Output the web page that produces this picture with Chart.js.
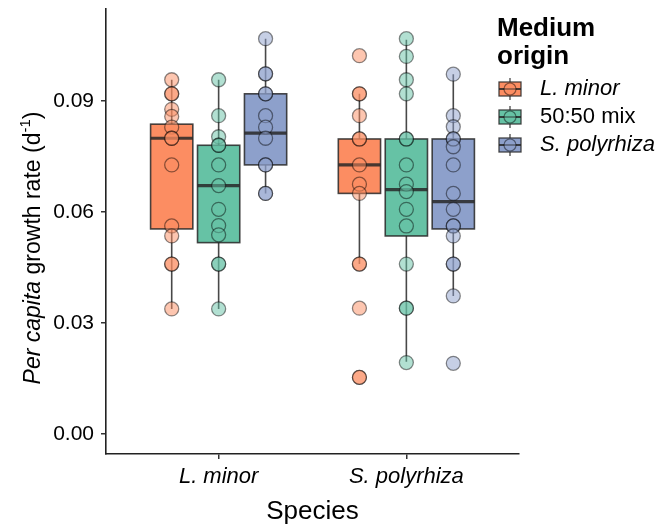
<!DOCTYPE html>
<html>
<head>
<meta charset="utf-8">
<script src="https://cdn.jsdelivr.net/npm/chart.js@4.4.1/dist/chart.umd.min.js"></script>
<style>
  html, body { margin: 0; padding: 0; background: #fff; }
</style>
</head>
<body>
<canvas id="growthChart" width="661" height="529"></canvas>
<script>
const species = ["L. minor", "S. polyrhiza"];
const origins = ["L. minor", "50:50 mix", "S. polyrhiza"];
const originItalic = [true, false, true];
const colors = ["#fc8d62", "#66c2a5", "#8da0cb"];
const yTicks = [0, 0.03, 0.06, 0.09];

// growth rates (d-1), one array per species x medium origin
const minorInMinor = [0.0957, 0.0919, 0.0919, 0.0877, 0.0858, 0.0829, 0.0799, 0.0799, 0.0727, 0.0562, 0.0535, 0.0459, 0.0459, 0.0338];
const minorInMix = [0.0957, 0.086, 0.0803, 0.078, 0.078, 0.0727, 0.0671, 0.0607, 0.0563, 0.0538, 0.0459, 0.0459, 0.0338];
const minorInPoly = [0.1068, 0.0973, 0.0973, 0.0919, 0.0919, 0.086, 0.0829, 0.0799, 0.0727, 0.0727, 0.065, 0.065];
const polyInMinor = [0.1022, 0.0919, 0.0919, 0.086, 0.0797, 0.0797, 0.0727, 0.0675, 0.065, 0.0459, 0.0459, 0.034, 0.0153, 0.0153];
const polyInMix = [0.1068, 0.102, 0.0957, 0.0919, 0.0797, 0.0797, 0.0727, 0.0675, 0.0655, 0.0607, 0.0562, 0.0459, 0.034, 0.034, 0.0193];
const polyInPoly = [0.0972, 0.086, 0.083, 0.0797, 0.0797, 0.0776, 0.0727, 0.065, 0.0607, 0.0562, 0.0562, 0.0535, 0.0459, 0.0459, 0.0373, 0.0191];

// box stats: [lower whisker, q1, median, q3, upper whisker]
const boxMinor = [
  [0.0338, 0.0554, 0.0799, 0.0837, 0.0957],
  [0.0338, 0.0517, 0.0671, 0.078, 0.0957],
  [0.065, 0.0727, 0.0813, 0.0919, 0.1068]
];
const boxPoly = [
  [0.0459, 0.065, 0.0727, 0.0797, 0.0919],
  [0.0195, 0.0535, 0.066, 0.0797, 0.1065],
  [0.0373, 0.0554, 0.0628, 0.0797, 0.0972]
];

const dodge = [-0.25, 0, 0.25];
const boxHalf = 0.1125;
const font = "'Liberation Sans', Arial, sans-serif";

const rawBySpecies = [
  [minorInMinor, minorInMix, minorInPoly],
  [polyInMinor, polyInMix, polyInPoly]
];
const boxBySpecies = [boxMinor, boxPoly];

function fade(hex, a) {
  const n = parseInt(hex.slice(1), 16);
  return "rgba(" + (n >> 16) + "," + ((n >> 8) & 255) + "," + (n & 255) + "," + a + ")";
}

const datasets = origins.map((o, k) => {
  const pts = [];
  rawBySpecies.forEach((groups, i) => {
    groups[k].forEach(v => pts.push({ x: i + 1 + dodge[k], y: v }));
  });
  return {
    label: o,
    data: pts,
    pointRadius: 7,
    pointHoverRadius: 7,
    pointBackgroundColor: fade(colors[k], 0.5),
    pointBorderColor: "rgba(0,0,0,0.45)",
    pointBorderWidth: 1.3
  };
});

const boxPlugin = {
  id: "boxes",
  beforeDatasetsDraw(chart) {
    const { ctx, scales: { x, y } } = chart;
    ctx.save();
    boxBySpecies.forEach((boxes, i) => {
      boxes.forEach((b, k) => {
        const cx = x.getPixelForValue(i + 1 + dodge[k]);
        const left = x.getPixelForValue(i + 1 + dodge[k] - boxHalf);
        const right = x.getPixelForValue(i + 1 + dodge[k] + boxHalf);
        const [lo, q1, med, q3, hi] = b.map(v => y.getPixelForValue(v));
        ctx.strokeStyle = "rgba(40,40,40,0.85)";
        ctx.lineWidth = 1.6;
        ctx.beginPath();
        ctx.moveTo(cx, lo); ctx.lineTo(cx, q1);
        ctx.moveTo(cx, q3); ctx.lineTo(cx, hi);
        ctx.stroke();
        ctx.fillStyle = colors[k];
        ctx.fillRect(left, q3, right - left, q1 - q3);
        ctx.strokeRect(left, q3, right - left, q1 - q3);
        ctx.lineWidth = 3.2;
        ctx.beginPath();
        ctx.moveTo(left, med); ctx.lineTo(right, med);
        ctx.stroke();
      });
    });
    ctx.restore();
  },
  afterDraw(chart) {
    const { ctx, chartArea } = chart;
    ctx.save();
    ctx.fillStyle = "#000";
    ctx.textBaseline = "middle";

    // x title
    ctx.textAlign = "center";
    ctx.font = "26px " + font;
    ctx.fillText("Species", (chartArea.left + chartArea.right) / 2, 512);

    // y title, mixed italic + superscript
    ctx.save();
    ctx.translate(34, 248);
    ctx.rotate(-Math.PI / 2);
    const parts = [
      { t: "Per capita", f: "italic 23px " + font, dy: 0 },
      { t: " growth rate (d", f: "23px " + font, dy: 0 },
      { t: "-1", f: "15px " + font, dy: -8 },
      { t: ")", f: "23px " + font, dy: 0 }
    ];
    let total = 0;
    parts.forEach(p => { ctx.font = p.f; p.w = ctx.measureText(p.t).width; total += p.w; });
    let px = -total / 2;
    ctx.textAlign = "left";
    parts.forEach(p => { ctx.font = p.f; ctx.fillText(p.t, px, p.dy); px += p.w; });
    ctx.restore();

    // legend
    ctx.textAlign = "left";
    ctx.font = "bold 26px " + font;
    ctx.fillText("Medium", 497, 29);
    ctx.fillText("origin", 497, 57);
    origins.forEach((o, k) => {
      const cy = 89 + k * 28;
      const kx = 499, kw = 22, kh = 14;
      ctx.strokeStyle = "rgba(40,40,40,0.85)";
      ctx.lineWidth = 1.3;
      ctx.beginPath();
      ctx.moveTo(kx + kw / 2, cy - 11); ctx.lineTo(kx + kw / 2, cy + 11);
      ctx.stroke();
      ctx.fillStyle = colors[k];
      ctx.fillRect(kx, cy - kh / 2, kw, kh);
      ctx.strokeRect(kx, cy - kh / 2, kw, kh);
      ctx.lineWidth = 2;
      ctx.beginPath();
      ctx.moveTo(kx, cy); ctx.lineTo(kx + kw, cy);
      ctx.stroke();
      ctx.fillStyle = fade(colors[k], 0.5);
      ctx.strokeStyle = "rgba(0,0,0,0.45)";
      ctx.lineWidth = 1.2;
      ctx.beginPath();
      ctx.arc(kx + kw / 2, cy, 6, 0, Math.PI * 2);
      ctx.fill(); ctx.stroke();
      ctx.fillStyle = "#000";
      ctx.font = (originItalic[k] ? "italic " : "") + "22px " + font;
      ctx.fillText(o, 540, cy);
    });
    ctx.restore();
  }
};

new Chart(document.getElementById("growthChart").getContext("2d"), {
  type: "scatter",
  data: { datasets: datasets },
  plugins: [boxPlugin],
  options: {
    responsive: false,
    animation: false,
    layout: { padding: { top: 8, right: 142, left: 0, bottom: 0 } },
    plugins: { legend: { display: false }, tooltip: { enabled: false } },
    scales: {
      x: {
        type: "linear",
        min: 0.4,
        max: 2.6,
        afterBuildTicks: s => { s.ticks = species.map((_, i) => ({ value: i + 1 })); },
        afterFit: s => { s.height = 75; s.paddingLeft = 0; s.paddingRight = 0; },
        ticks: {
          callback: v => species[v - 1],
          color: "#000",
          padding: 5,
          font: { family: font, size: 22, style: "italic" }
        },
        grid: { drawOnChartArea: false, tickLength: 5, color: "#333", lineWidth: 1.5 },
        border: { color: "#222", width: 1.6 }
      },
      y: {
        min: -0.0054,
        max: 0.115,
        afterBuildTicks: s => { s.ticks = yTicks.map(v => ({ value: v })); },
        afterFit: s => { s.width = 106; s.paddingTop = 0; s.paddingBottom = 0; },
        ticks: {
          callback: v => v.toFixed(2),
          color: "#000",
          padding: 7,
          font: { family: font, size: 21 }
        },
        grid: { drawOnChartArea: false, tickLength: 5, color: "#333", lineWidth: 1.5 },
        border: { color: "#222", width: 1.6 }
      }
    }
  }
});
</script>
</body>
</html>
